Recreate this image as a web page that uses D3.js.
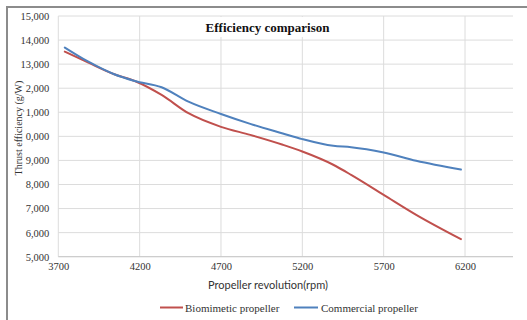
<!DOCTYPE html>
<html>
<head>
<meta charset="utf-8">
<script src="https://cdn.jsdelivr.net/npm/d3@7"></script>
<style>
  html, body { margin: 0; padding: 0; background: #fff; }
  svg { display: block; }
</style>
</head>
<body>
<svg id="chart" width="527" height="320"></svg>
<script>
// Propeller speed (rpm) at which efficiency was sampled
const rpm = [3740, 3885, 4040, 4170, 4335, 4500, 4700, 4880, 5080, 5200, 5390, 5500, 5700, 5900, 6175];
// Thrust efficiency (g/W) for each propeller
const biomimetic = [13520, 13060, 12590, 12300, 11720, 10960, 10395, 10060, 9650, 9370, 8820, 8400, 7570, 6740, 5730];
const commercial = [13690, 13100, 12590, 12300, 12040, 11440, 10930, 10520, 10120, 9885, 9605, 9550, 9330, 8985, 8620];
const seriesNames = ["Biomimetic propeller", "Commercial propeller"];
const seriesColors = ["#c0504d", "#4f81bd"];
// Axis ticks and their printed labels
const xTicks = [3700, 4200, 4700, 5200, 5700, 6200];
const yTicks = [15000, 14000, 13000, 12000, 11000, 10000, 9000, 8000, 7000, 6000, 5000];
const yTickLabels = ["15,000", "14,000", "13,000", "2,000", "1,000", "0,000", "9,000", "8,000", "7,000", "6,000", "5,000"];

const svg = d3.select("#chart");
const serif = "'Liberation Serif', 'Times New Roman', serif";

// Outer chart frame (top and left edges visible)
svg.append("path")
  .attr("d", "M7,330 L7,7 L540,7")
  .attr("fill", "none").attr("stroke", "#8c8c8c").attr("stroke-width", 2);

const plot = { left: 58.3, right: 513, top: 16, bottom: 256.7 };

const x = d3.scaleLinear().domain([3700, 6495]).range([plot.left, plot.right]);
const y = d3.scaleLinear().domain([5000, 15000]).range([plot.bottom, plot.top]);

// Gridlines
const grid = svg.append("g");
grid.selectAll("line.h").data(yTicks).join("line")
  .attr("class", "h")
  .attr("x1", plot.left).attr("x2", plot.right)
  .attr("y1", d => y(d)).attr("y2", d => y(d))
  .attr("stroke", "#dcdcdc").attr("stroke-width", 1);
grid.selectAll("line.v").data(xTicks).join("line")
  .attr("class", "v")
  .attr("x1", d => x(d)).attr("x2", d => x(d))
  .attr("y1", plot.top).attr("y2", plot.bottom)
  .attr("stroke", "#dcdcdc").attr("stroke-width", 1);

// Bottom axis line
svg.append("line")
  .attr("x1", plot.left).attr("x2", plot.right)
  .attr("y1", plot.bottom).attr("y2", plot.bottom)
  .attr("stroke", "#c8c8c8").attr("stroke-width", 1);

// Y tick labels
const yAxis = d3.axisLeft(y).tickValues(yTicks)
  .tickFormat((d, i) => yTickLabels[i]).tickSize(0).tickPadding(9);
svg.append("g").attr("transform", `translate(${plot.left},0)`).call(yAxis)
  .call(g => g.select(".domain").remove())
  .selectAll("text")
  .attr("font-family", serif).attr("font-size", 10.5).attr("fill", "#333");

// X tick labels
const xAxis = d3.axisBottom(x).tickValues(xTicks).tickFormat(d3.format("d"))
  .tickSize(0).tickPadding(6);
svg.append("g").attr("transform", `translate(0,${plot.bottom})`).call(xAxis)
  .call(g => g.select(".domain").remove())
  .selectAll("text")
  .attr("font-family", serif).attr("font-size", 10.5).attr("fill", "#333");

// Title with a white backing box over the gridlines
svg.append("rect")
  .attr("x", 192).attr("y", 17).attr("width", 152).attr("height", 20)
  .attr("fill", "#fff");
svg.append("text")
  .attr("x", 267.5).attr("y", 32)
  .attr("text-anchor", "middle")
  .attr("font-family", serif).attr("font-weight", "bold").attr("font-size", 13)
  .attr("fill", "#111")
  .text("Efficiency comparison");

// Axis titles
svg.append("text")
  .attr("transform", "translate(22,128) rotate(-90)")
  .attr("text-anchor", "middle")
  .attr("font-family", serif).attr("font-size", 10).attr("fill", "#333")
  .text("Thrust efficiency (g/W)");
svg.append("text")
  .attr("x", 268).attr("y", 289)
  .attr("text-anchor", "middle")
  .attr("font-family", "Lato, 'Open Sans', sans-serif").attr("font-size", 11).attr("fill", "#333")
  .text("Propeller revolution(rpm)");

// Lines
const line = d3.line().x(d => x(d[0])).y(d => y(d[1])).curve(d3.curveMonotoneX);
[biomimetic, commercial].forEach((vals, i) => {
  svg.append("path")
    .datum(rpm.map((r, j) => [r, vals[j]]))
    .attr("fill", "none")
    .attr("stroke", seriesColors[i])
    .attr("stroke-width", 2)
    .attr("stroke-linecap", "round")
    .attr("d", line);
});

// Legend
const legendItems = [
  { x1: 160, x2: 183, tx: 185 },
  { x1: 294, x2: 318, tx: 321 }
];
const legend = svg.append("g");
legendItems.forEach((it, i) => {
  legend.append("line")
    .attr("x1", it.x1).attr("x2", it.x2).attr("y1", 307.5).attr("y2", 307.5)
    .attr("stroke", seriesColors[i]).attr("stroke-width", 2);
  legend.append("text")
    .attr("x", it.tx).attr("y", 311.5)
    .attr("font-family", serif).attr("font-size", 11).attr("fill", "#333")
    .text(seriesNames[i]);
});
</script>
</body>
</html>
